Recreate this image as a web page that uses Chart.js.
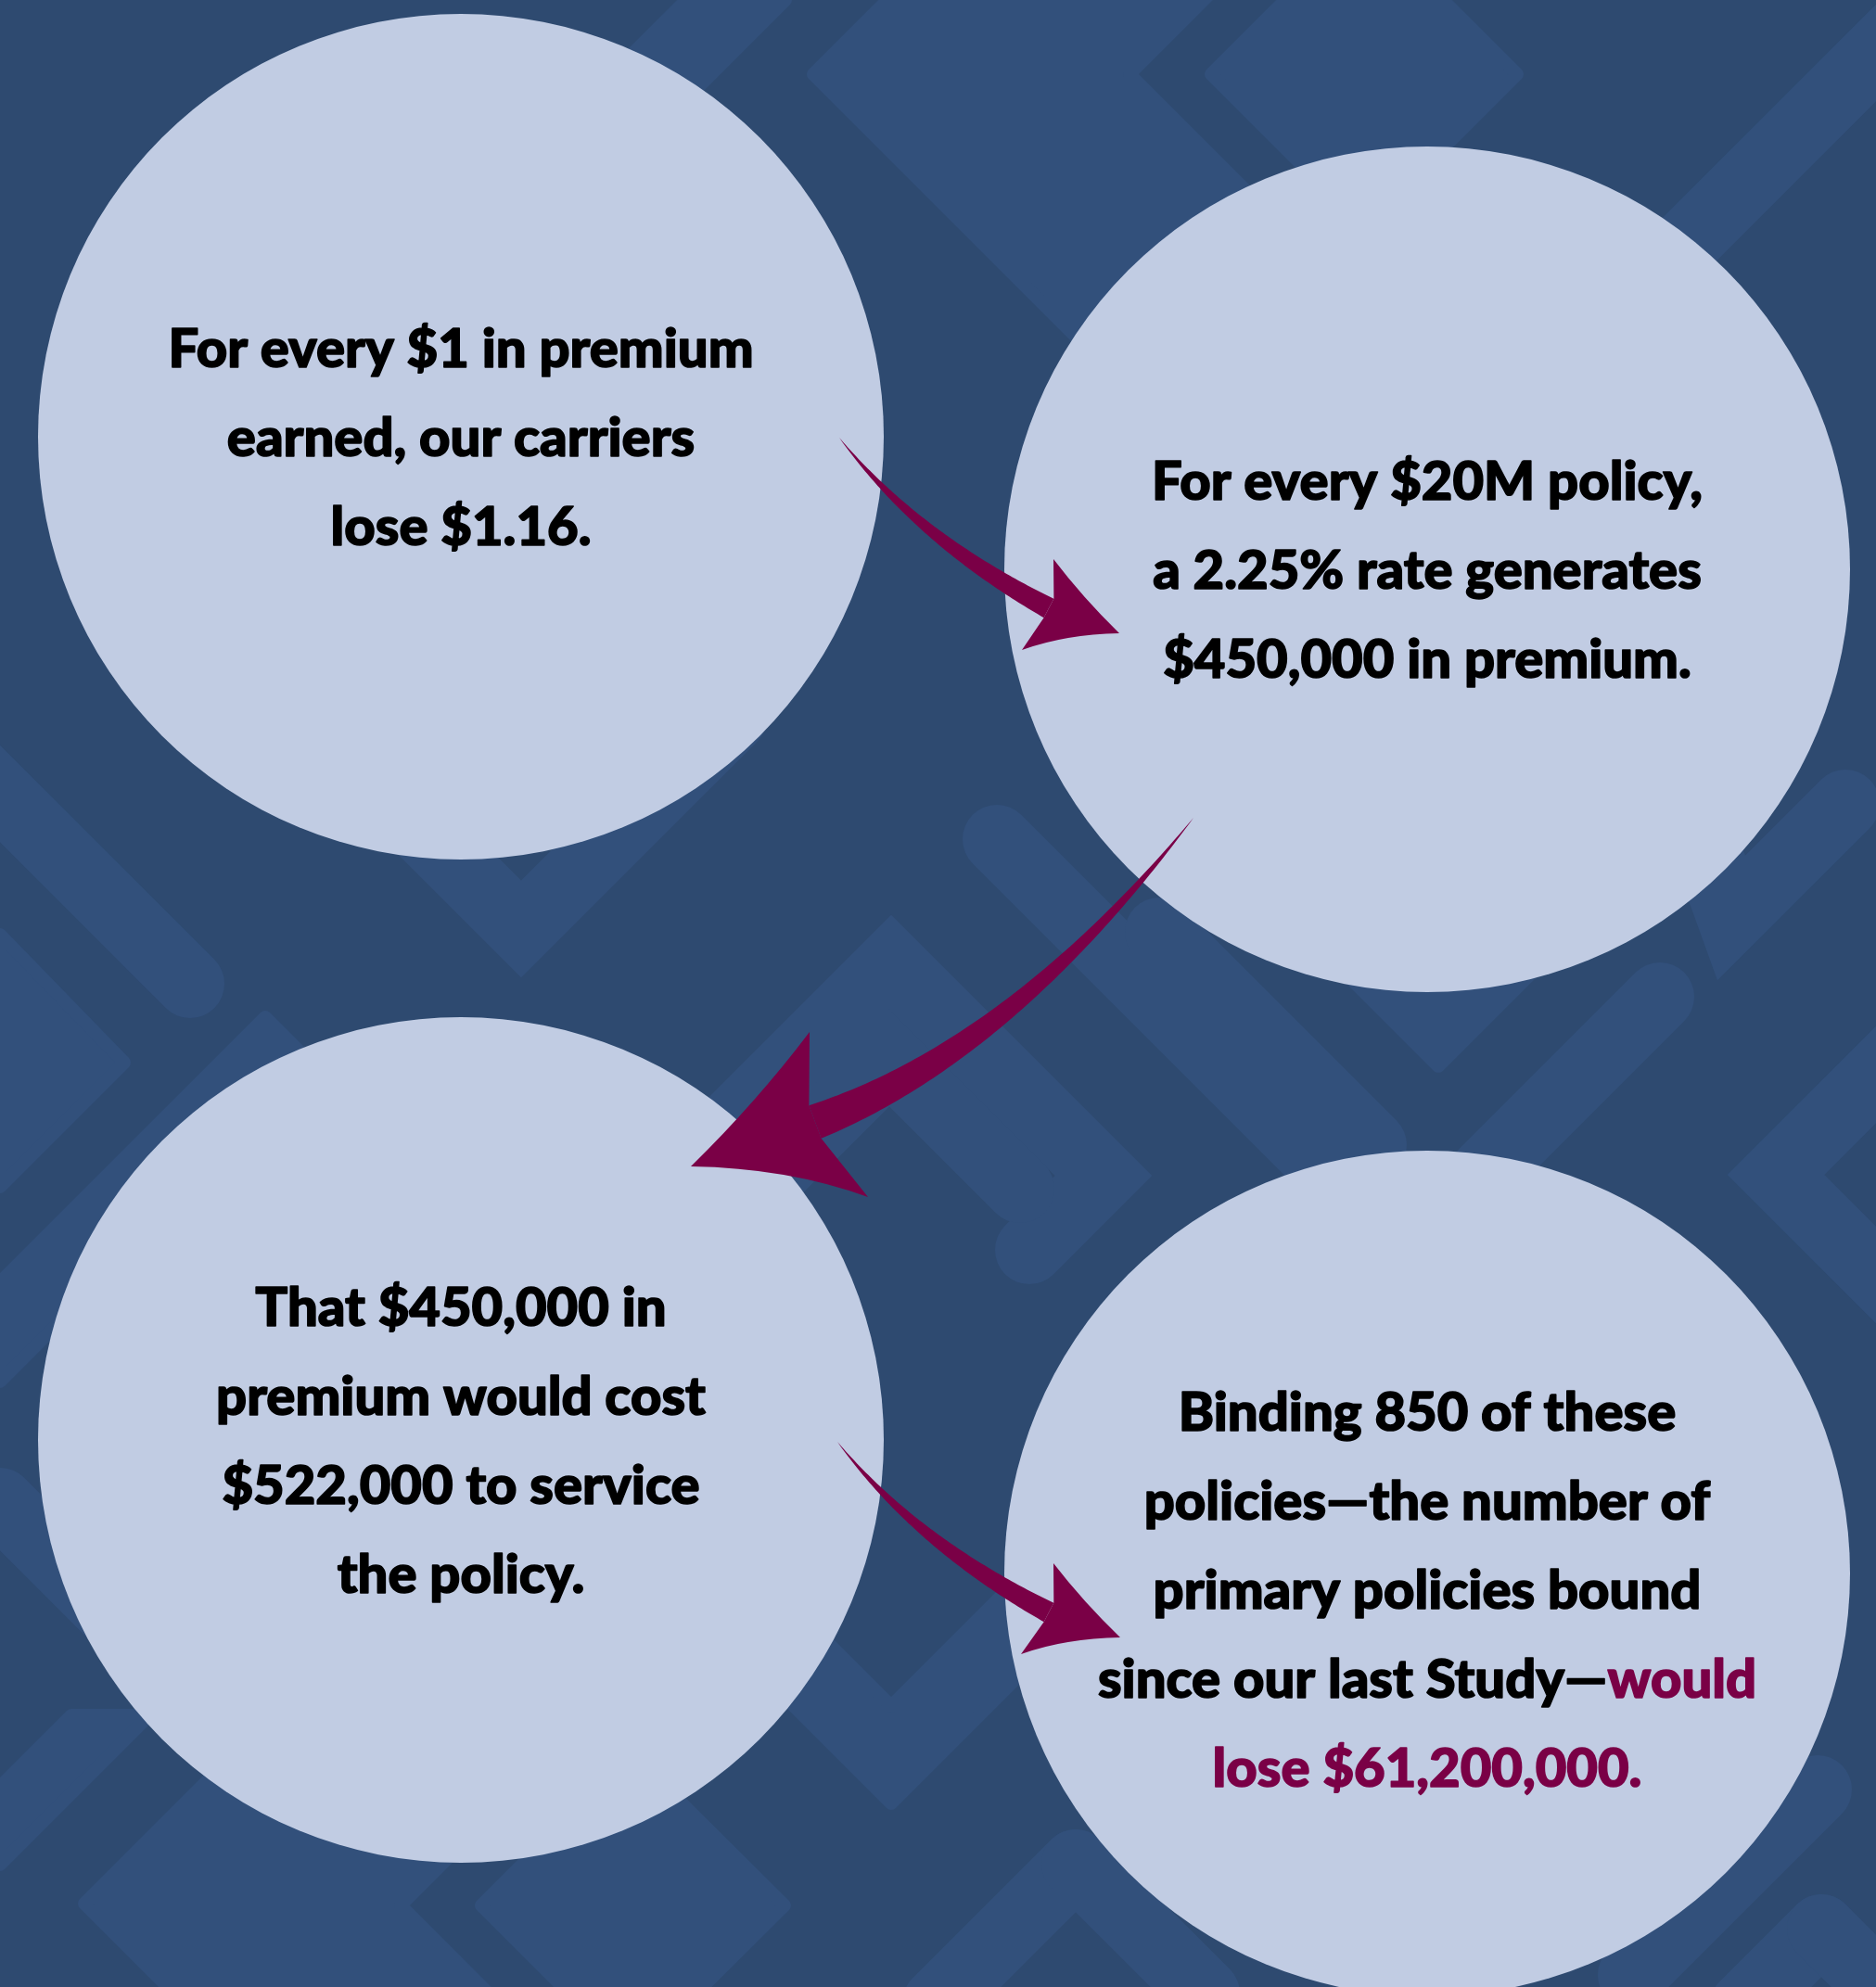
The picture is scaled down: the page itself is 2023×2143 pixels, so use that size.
<!DOCTYPE html>
<html lang="en">
<head>
<meta charset="UTF-8">
<title>Cost of a $20M policy</title>
<script src="https://cdn.jsdelivr.net/npm/chart.js"></script>
<style>
  body { margin: 0; padding: 0; background: #2e4a70; }
  .wrap { width: 2023px; height: 2143px; position: relative; }
</style>
</head>
<body>
<div class="wrap"><canvas id="flow"></canvas></div>
<script>
// four steps of the story, centres in page units (y grows downward)
const stepX = [497, 1539, 497, 1539];
const stepY = [471, 614, 1553, 1697];
const stepLines = [
  ['For every $1 in premium', 'earned, our carriers', 'lose $1.16.'],
  ['For every $20M policy,', 'a 2.25% rate generates', '$450,000 in premium.'],
  ['That $450,000 in', 'premium would cost', '$522,000 to service', 'the policy.'],
  ['Binding 850 of these', 'policies—the number of', 'primary policies bound',
   'since our last Study—would', 'lose $61,200,000.']
];
const punchline = 'would lose $61,200,000.';

// curved arrows linking the steps: tail, bend, neck, tip, barbs
const arrowTail = [[905, 472], [1287, 882], [903, 1555]];
const arrowBend = [[990, 581], [1090, 1132], [988, 1664]];
const arrowNeck = [[1131, 656], [879, 1210], [1131, 1739]];
const arrowTip = [[1207, 683], [745, 1258], [1208, 1766]];
const arrowBarbA = [[1136, 603], [873, 1113], [1136, 1686]];
const arrowBarbB = [[1102, 701], [936, 1291], [1101, 1784]];
const arrowNeckWidth = [23, 38, 23];

// backdrop: lighter chevrons / diamonds (filled) and bands (centre lines)
const bgShapes = [
  [[977, -20], [877, 80], [1180, 383], [1450, 312], [1218, 80], [1318, -20]],
  [[1306, 80], [1471, -85], [1636, 80], [1471, 245]],
  [[740, 0], [847, 0], [600, 247], [493, 247]],
  [[330, 1814], [91, 2053], [271, 2233], [612, 2235], [432, 2055], [672, 1815]],
  [[519, 2055], [682, 1892], [846, 2055], [682, 2218]],
  [[0, 1008], [134, 1146], [0, 1280]],
  [[286, 1097], [0, 1383], [0, 1490], [286, 1204], [520, 1438], [520, 1331]],
  [[1400, 999], [1551, 1150], [1700, 1001]],
  [[77, 1850], [161, 1850], [0, 2011], [0, 1927]],
  [[716, 1700], [961, 1945], [1206, 1700], [1101, 1700], [961, 1840], [821, 1700]]
];
const bgBands = [
  [[-120, 736], [205, 1061]],
  [[680, 1320], [961, 1039], [1190, 1268], [1110, 1348]],
  [[800, 1300], [959, 1141], [1100, 1282]],
  [[330, 770], [562, 1002], [790, 774]],
  [[1075, 905], [1420, 1250]],
  [[1250, 1005], [1480, 1235]],
  [[1790, 1075], [1600, 1265]],
  [[2110, 1072], [1915, 1267], [2110, 1462]],
  [[2080, 0], [1780, 300]],
  [[1820, 860], [1867, 990], [1990, 867]],
  [[1160, 2010], [1010, 2160]],
  [[1160, 2010], [1300, 2150]],
  [[1964, 2080], [1880, 2164]],
  [[1964, 2080], [2060, 2176]],
  [[1960, 1930], [1760, 2130]],
  [[0, 1620], [140, 1760]]
];

const NAVY = '#2e4a70';
const NAVY_LIGHT = '#32507b';
const BUBBLE = '#c1cce3';
const WINE = '#7a0046';

const backdrop = {
  id: 'backdrop',
  beforeDraw(chart) {
    const { ctx, scales: { x, y } } = chart;
    const trace = pts => {
      ctx.beginPath();
      pts.forEach(([bx, by], i) => {
        const px = x.getPixelForValue(bx), py = y.getPixelForValue(by);
        if (i === 0) ctx.moveTo(px, py); else ctx.lineTo(px, py);
      });
    };
    ctx.save();
    ctx.fillStyle = NAVY;
    ctx.fillRect(0, 0, chart.width, chart.height);
    ctx.fillStyle = ctx.strokeStyle = NAVY_LIGHT;
    ctx.lineJoin = 'round';
    ctx.lineWidth = 14;
    bgShapes.forEach(shape => {
      trace(shape);
      ctx.closePath();
      ctx.fill();
      ctx.stroke();
    });
    ctx.lineWidth = 74;
    ctx.lineJoin = 'miter';
    ctx.lineCap = 'round';
    bgBands.forEach(band => {
      trace(band);
      ctx.stroke();
    });
    ctx.restore();
  }
};

function drawArrow(ctx, pts, w) {
  const [tail, bend, neck, tip, barbA, barbB] = pts;
  const left = [], right = [];
  const N = 80;
  for (let i = 0; i <= N; i++) {
    const t = i / N, u = 1 - t;
    const px = u * u * tail[0] + 2 * u * t * bend[0] + t * t * neck[0];
    const py = u * u * tail[1] + 2 * u * t * bend[1] + t * t * neck[1];
    let dx = 2 * u * (bend[0] - tail[0]) + 2 * t * (neck[0] - bend[0]);
    let dy = 2 * u * (bend[1] - tail[1]) + 2 * t * (neck[1] - bend[1]);
    const len = Math.hypot(dx, dy);
    dx /= len; dy /= len;
    const half = (w / 2) * Math.pow(t, 0.95);
    left.push([px - dy * half, py + dx * half]);
    right.push([px + dy * half, py - dx * half]);
  }
  ctx.fillStyle = WINE;
  ctx.beginPath();
  left.forEach(([a, b], i) => i ? ctx.lineTo(a, b) : ctx.moveTo(a, b));
  right.reverse().forEach(([a, b]) => ctx.lineTo(a, b));
  ctx.closePath();
  ctx.fill();

  // head
  let dx = neck[0] - bend[0], dy = neck[1] - bend[1];
  const len = Math.hypot(dx, dy);
  dx /= len; dy /= len;
  const j1 = [neck[0] - dy * w / 2, neck[1] + dx * w / 2];
  const j2 = [neck[0] + dy * w / 2, neck[1] - dx * w / 2];
  const dA1 = Math.hypot(j1[0] - barbA[0], j1[1] - barbA[1]);
  const dA2 = Math.hypot(j2[0] - barbA[0], j2[1] - barbA[1]);
  const jA = dA1 < dA2 ? j1 : j2, jB = dA1 < dA2 ? j2 : j1;
  const bow = (a, b, k) => {
    const mx = (a[0] + b[0]) / 2, my = (a[1] + b[1]) / 2;
    let vx = neck[0] - mx, vy = neck[1] - my;
    const vl = Math.hypot(vx, vy) || 1;
    const el = Math.hypot(b[0] - a[0], b[1] - a[1]);
    return [mx + vx / vl * k * el, my + vy / vl * k * el];
  };
  const c1 = bow(barbA, tip, 0.04);
  const c2 = bow(tip, barbB, 0.09);
  ctx.beginPath();
  ctx.moveTo(jA[0], jA[1]);
  ctx.lineTo(barbA[0], barbA[1]);
  ctx.quadraticCurveTo(c1[0], c1[1], tip[0], tip[1]);
  ctx.quadraticCurveTo(c2[0], c2[1], barbB[0], barbB[1]);
  ctx.lineTo(jB[0], jB[1]);
  ctx.closePath();
  ctx.fill();
}

const captions = {
  id: 'captions',
  afterDatasetsDraw(chart) {
    const { ctx, scales: { x, y } } = chart;
    ctx.save();

    // step texts
    const lineGap = 96;
    const capHalf = 21;
    const nudge = [0, 0, 0, 17];
    ctx.font = '900 58px Lato';
    ctx.textBaseline = 'alphabetic';
    ctx.lineWidth = 1.6;
    ctx.lineJoin = 'round';
    stepLines.forEach((lines, s) => {
      const cx = x.getPixelForValue(stepX[s]);
      const cy = y.getPixelForValue(stepY[s]) + nudge[s];
      const full = lines.join(' ');
      const hi = s === stepLines.length - 1 ? full.indexOf(punchline) : -1;
      let offset = 0;
      lines.forEach((line, i) => {
        const by = cy + (i - (lines.length - 1) / 2) * lineGap + capHalf;
        const cut = hi < 0 ? line.length : Math.max(0, Math.min(line.length, hi - offset));
        const plain = line.slice(0, cut), strong = line.slice(cut);
        const total = ctx.measureText(line).width;
        let sx = cx - total / 2;
        ctx.textAlign = 'left';
        if (plain) {
          ctx.fillStyle = ctx.strokeStyle = '#000000';
          ctx.fillText(plain, sx, by);
          ctx.strokeText(plain, sx, by);
          sx += ctx.measureText(plain).width;
        }
        if (strong) {
          ctx.fillStyle = ctx.strokeStyle = WINE;
          ctx.fillText(strong, sx, by);
          ctx.strokeText(strong, sx, by);
        }
        offset += line.length + 1;
      });
    });

    // arrows
    const px = p => [x.getPixelForValue(p[0]), y.getPixelForValue(p[1])];
    arrowTail.forEach((t, i) => {
      drawArrow(ctx, [t, arrowBend[i], arrowNeck[i], arrowTip[i], arrowBarbA[i], arrowBarbB[i]].map(px),
        arrowNeckWidth[i]);
    });
    ctx.restore();
  }
};

function build() {
  new Chart(document.getElementById('flow'), {
    type: 'scatter',
    data: {
      datasets: [{
        label: 'Steps',
        data: stepX.map((v, i) => ({ x: v, y: stepY[i] })),
        backgroundColor: BUBBLE,
        borderWidth: 0,
        pointRadius: 456,
        pointHoverRadius: 456,
        clip: false
      }]
    },
    options: {
      responsive: true,
      maintainAspectRatio: false,
      animation: false,
      events: [],
      layout: { padding: 0, autoPadding: false },
      scales: {
        x: { type: 'linear', min: 0, max: 2023, display: false },
        y: { type: 'linear', min: 0, max: 2143, reverse: true, display: false }
      },
      plugins: {
        legend: { display: false },
        tooltip: { enabled: false },
        title: { display: false }
      }
    },
    plugins: [backdrop, captions]
  });
}

if (document.fonts && document.fonts.load) {
  document.fonts.load('900 58px Lato').then(build, build);
} else {
  build();
}
</script>
</body>
</html>
